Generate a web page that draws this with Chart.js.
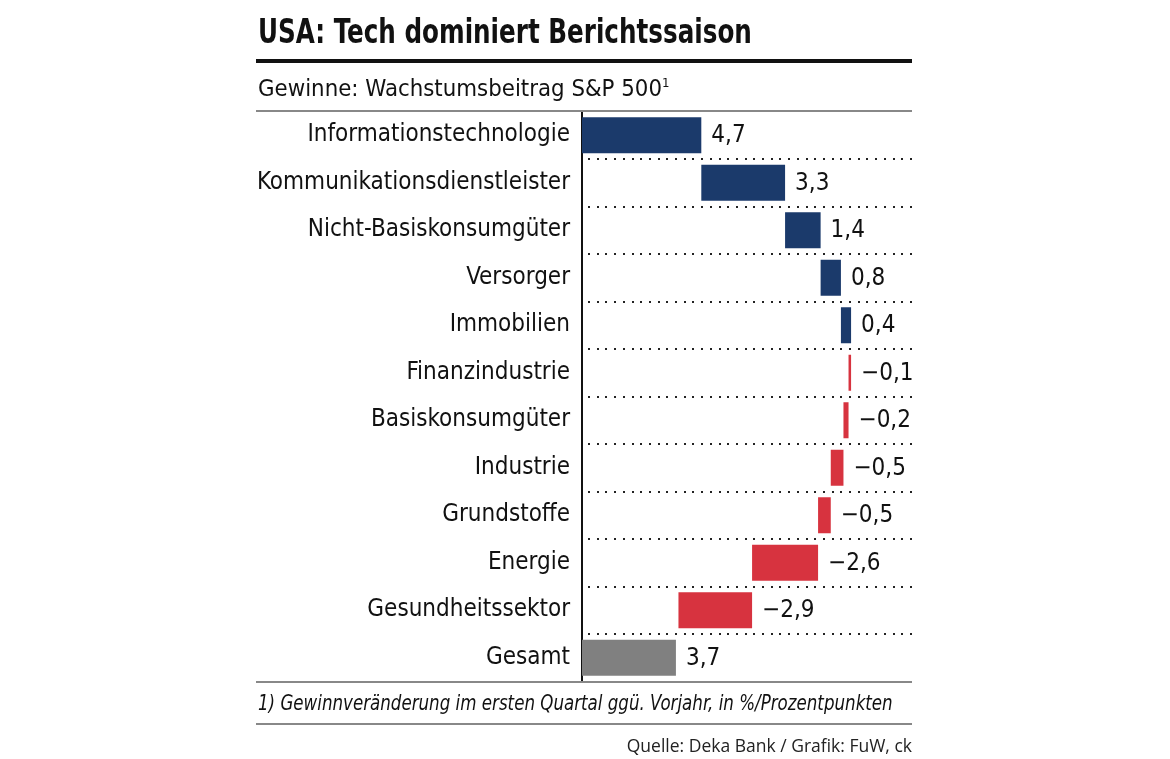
<!DOCTYPE html>
<html>
<head>
<meta charset="utf-8">
<script src="https://cdn.jsdelivr.net/npm/chart.js@4.4.1/dist/chart.umd.min.js"></script>
<style>
  html, body { margin: 0; padding: 0; background: #fff; }
  body { width: 1170px; height: 759px; position: relative; overflow: hidden; }
  .narrow { font-family: 'Liberation Sans Narrow', 'DejaVu Sans Condensed', sans-serif; color: #111; transform-origin: left top; }
  #title { position: absolute; left: 258px; top: 12px; font-size: 33px; font-weight: bold; line-height: 40px; white-space: nowrap; transform: scaleX(0.83); }
  #rule1 { position: absolute; left: 256px; top: 59px; width: 656px; height: 4px; background: #111; }
  #subtitle { position: absolute; left: 258px; top: 74px; font-size: 23.5px; line-height: 28px; white-space: nowrap; transform: scaleX(1.01); }
  #subtitle sup { font-size: 13px; vertical-align: 9px; line-height: 0; }
  #rule2 { position: absolute; left: 256px; top: 110px; width: 656px; height: 2px; background: #888; }
  #rule3 { position: absolute; left: 256px; top: 681px; width: 656px; height: 2px; background: #888; }
  #note { position: absolute; left: 258px; top: 689px; font-size: 21px; font-style: italic; line-height: 28px; white-space: nowrap; transform: scaleX(0.883); }
  #rule4 { position: absolute; left: 256px; top: 723px; width: 656px; height: 2px; background: #888; }
  #source { position: absolute; right: 258px; top: 733px; font-family: 'Open Sans', 'Noto Sans', sans-serif; font-size: 17.5px; line-height: 24px; color: #222; white-space: nowrap; }
  #wrap { position: absolute; left: 0; top: 0; width: 1170px; height: 759px; }
</style>
</head>
<body>
<div id="wrap"><canvas id="chart"></canvas></div>
<div id="title" class="narrow">USA: Tech dominiert Berichtssaison</div>
<div id="rule1"></div>
<div id="subtitle" class="narrow">Gewinne: Wachstumsbeitrag S&amp;P 500<sup>1</sup></div>
<div id="rule2"></div>
<div id="rule3"></div>
<div id="note" class="narrow">1) Gewinnveränderung im ersten Quartal ggü. Vorjahr, in %/Prozentpunkten</div>
<div id="rule4"></div>
<div id="source">Quelle: Deka Bank / Grafik: FuW, ck</div>
<script>
(function () {
  'use strict';

  const categories = [
    'Informationstechnologie', 'Kommunikationsdienstleister', 'Nicht-Basiskonsumgüter',
    'Versorger', 'Immobilien', 'Finanzindustrie', 'Basiskonsumgüter', 'Industrie',
    'Grundstoffe', 'Energie', 'Gesundheitssektor'
  ];
  const contributions = [4.7, 3.3, 1.4, 0.8, 0.4, -0.1, -0.2, -0.5, -0.5, -2.6, -2.9];
  const totalLabel = 'Gesamt';
  const totalValue = 3.7;

  const colorUp = '#1b3a6b';
  const colorDown = '#d7333f';
  const colorTotal = '#808080';
  const FONT = "'Liberation Sans Narrow', 'DejaVu Sans Condensed', sans-serif";

  // waterfall ranges from the contributions
  const labels = categories.concat([totalLabel]);
  const ranges = [];
  const shown = [];
  const colors = [];
  let run = 0;
  contributions.forEach(function (v) {
    const start = Math.round(run * 10) / 10;
    run = Math.round((run + v) * 10) / 10;
    ranges.push([start, run]);
    shown.push(v);
    colors.push(v >= 0 ? colorUp : colorDown);
  });
  ranges.push([0, totalValue]);
  shown.push(totalValue);
  colors.push(colorTotal);

  function fmt(v) {
    const s = Math.abs(v).toFixed(1).replace('.', ',');
    return v < 0 ? '\u2212' + s : s;
  }

  const dotRows = {
    id: 'dotRows',
    beforeDatasetsDraw: function (chart) {
      const ctx = chart.ctx;
      const y = chart.scales.y;
      const area = chart.chartArea;
      ctx.save();
      ctx.fillStyle = '#222';
      for (let i = 0; i < labels.length - 1; i++) {
        const py = Math.round((y.getPixelForValue(i) + y.getPixelForValue(i + 1)) / 2);
        for (let px = area.left + 6; px < area.right; px += 8.7) {
          ctx.fillRect(Math.round(px), py - 1, 2, 2);
        }
      }
      ctx.restore();
    }
  };

  const valueLabels = {
    id: 'valueLabels',
    afterDatasetsDraw: function (chart) {
      const ctx = chart.ctx;
      const meta = chart.getDatasetMeta(0);
      ctx.save();
      ctx.font = '24px ' + FONT;
      ctx.fillStyle = '#111';
      ctx.textAlign = 'left';
      ctx.textBaseline = 'middle';
      meta.data.forEach(function (bar, i) {
        const xr = Math.max(bar.x, bar.base);
        ctx.fillText(fmt(shown[i]), xr + 10, bar.y + 1);
      });
      ctx.restore();
    }
  };

  new Chart(document.getElementById('chart'), {
    type: 'bar',
    data: {
      labels: labels,
      datasets: [{
        data: ranges,
        backgroundColor: colors,
        borderWidth: 0,
        borderSkipped: false,
        categoryPercentage: 1,
        barPercentage: 0.76
      }]
    },
    options: {
      indexAxis: 'y',
      responsive: true,
      maintainAspectRatio: false,
      animation: false,
      layout: { padding: { top: 111.5, bottom: 77.5, left: 0, right: 258 } },
      plugins: { legend: { display: false }, tooltip: { enabled: false } },
      scales: {
        x: { display: false, min: 0, max: 13 },
        y: {
          afterFit: function (scale) { scale.width = 582; },
          grid: { display: false, drawTicks: false },
          border: { display: true, color: '#111', width: 2 },
          ticks: { color: '#111', padding: 12, font: { family: FONT, size: 24 } }
        }
      }
    },
    plugins: [dotRows, valueLabels]
  });
})();
</script>
</body>
</html>
